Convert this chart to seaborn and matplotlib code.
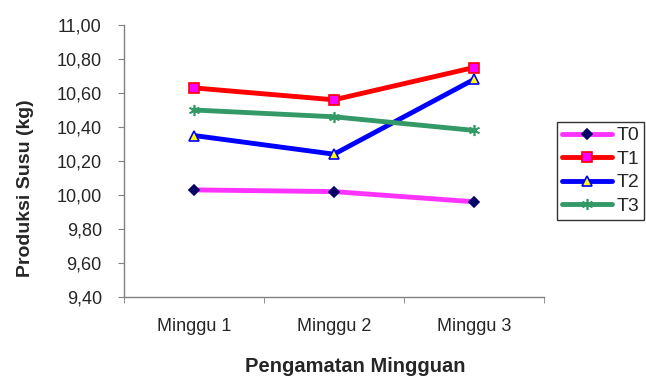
import pandas as pd
import matplotlib.pyplot as plt
import seaborn as sns
from matplotlib.ticker import FixedLocator, FuncFormatter

weeks = ["Minggu 1", "Minggu 2", "Minggu 3"]
t0 = [10.03, 10.02, 9.96]
t1 = [10.63, 10.56, 10.75]
t2 = [10.35, 10.24, 10.68]
t3 = [10.50, 10.46, 10.38]
groups = ["T0", "T1", "T2", "T3"]

sns.set_style("white")
plt.rcParams["font.family"] = ["Liberation Sans", "DejaVu Sans"]

rows = []
for g, vals in zip(groups, [t0, t1, t2, t3]):
    for w, v in zip(weeks, vals):
        rows.append((g, w, v))
df = pd.DataFrame(rows, columns=["Perlakuan", "Minggu", "Produksi"])

# per-series look, Excel-like
line_colors = {"T0": "#ff33ff", "T1": "#ff0000", "T2": "#0000ff", "T3": "#339966"}
styles = {
    "T0": dict(marker="D", ms=5, mfc="#000066", mec="#000066"),
    "T1": dict(marker="s", ms=7, mfc="#ff00ff", mec="#ff0000"),
    "T2": dict(marker="^", ms=7, mfc="#ffff00", mec="#0000ff"),
    "T3": dict(marker=(6, 2, 0), ms=8, mfc="#339966", mec="#339966"),
}

fig = plt.figure(figsize=(6.46, 3.81), dpi=100)
ax = fig.add_axes([124 / 646, 1 - 297 / 381, 420 / 646, 272 / 381])

sns.lineplot(data=df, x="Minggu", y="Produksi", hue="Perlakuan",
             palette=line_colors, lw=3.5, ax=ax, legend=False, sort=False)
for line, g in zip(ax.get_lines(), groups):
    line.set(**styles[g])
    line.set_markeredgewidth(1.2)
    line.set_label(g)

ax.set_xlim(-0.5, 2.5)
ax.set_ylim(9.4, 11.0)
ax.set_yticks([9.4 + 0.2 * i for i in range(9)])
ax.yaxis.set_major_formatter(FuncFormatter(lambda v, p: f"{v:.2f}".replace(".", ",")))
ax.xaxis.set_minor_locator(FixedLocator([-0.5, 0.5, 1.5, 2.5]))
ax.tick_params(axis="x", which="major", length=0, labelsize=13, pad=15)
ax.tick_params(axis="x", which="minor", length=4, color="#808080", bottom=True)
ax.tick_params(axis="y", length=4, color="#808080", left=True, labelsize=13, pad=12)

for s in ["top", "right"]:
    ax.spines[s].set_visible(False)
for s in ["left", "bottom"]:
    ax.spines[s].set_color("#808080")
    ax.spines[s].set_linewidth(1)

ax.set_xlabel("Pengamatan Mingguan", fontsize=14.5, fontweight="bold")
ax.xaxis.set_label_coords(0.55, -0.222)
ax.set_ylabel("Produksi Susu (kg)", fontsize=14, fontweight="bold")
ax.yaxis.set_label_coords(-0.215, 0.40)

leg = fig.legend(loc="upper left", bbox_to_anchor=(557 / 646, 1 - 122 / 381),
                 frameon=True, fancybox=False, fontsize=14, handlelength=2.6,
                 handletextpad=0.2, borderpad=0.25, labelspacing=0.3,
                 borderaxespad=0)
leg.get_frame().set_edgecolor("#000000")
leg.get_frame().set_linewidth(1)

fig.savefig("out.png", dpi=100)
